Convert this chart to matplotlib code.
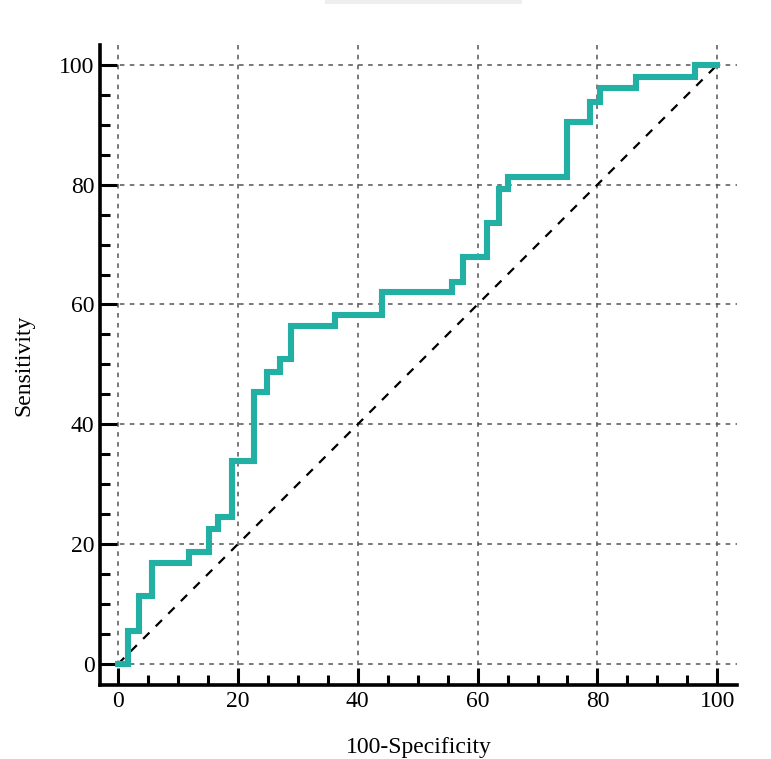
import matplotlib
matplotlib.use("Agg")
import matplotlib.pyplot as plt
from matplotlib.patches import Rectangle
from matplotlib.ticker import MultipleLocator

# ROC curve corners (100-Specificity, Sensitivity)
fpr = [0, 1.6, 3.5, 5.7, 11.9, 15.2, 16.7, 19.0, 22.7, 24.8, 27.0, 28.9,
       36.2, 44.1, 55.8, 57.6, 61.6, 63.6, 65.1, 75.0, 78.8, 80.5, 86.5,
       96.3, 100]
tpr = [0, 5.5, 11.4, 16.9, 18.7, 22.5, 24.5, 33.9, 45.4, 48.7, 50.9, 56.4,
       58.3, 62.1, 63.8, 67.9, 73.6, 79.3, 81.3, 90.5, 93.8, 96.2, 98.0,
       100, 100]
ticks = [0, 20, 40, 60, 80, 100]

plt.rcParams['font.family'] = ['Liberation Serif', 'DejaVu Serif']

fig = plt.figure(figsize=(7.71, 7.59), dpi=100)
ax = fig.add_axes([0.1297, 0.0975, 0.8263, 0.8432])

# faint box at the top edge (cut-off title frame)
fig.patches.append(Rectangle((325 / 771, 1 - 4 / 759), 197 / 771, 4 / 759,
                             transform=fig.transFigure, facecolor='#eeeeee',
                             edgecolor='none'))

ax.plot([0, 100], [0, 100], color='black', lw=1.6, ls=(0, (4, 4)), zorder=3)
ax.plot(fpr, tpr, drawstyle='steps-post', color='#22afa4', lw=4.4,
        solid_joinstyle='miter', zorder=4)

ax.set_xlim(-3, 103.3)
ax.set_ylim(-3.5, 103.3)
ax.set_xticks(ticks)
ax.set_yticks(ticks)
ax.xaxis.set_minor_locator(MultipleLocator(5))
ax.yaxis.set_minor_locator(MultipleLocator(5))

ax.grid(True, which='major', color='#555555', lw=1.1, ls=(0, (3, 3.5)))
ax.set_axisbelow(True)

for s in ['top', 'right']:
    ax.spines[s].set_visible(False)
for s in ['left', 'bottom']:
    ax.spines[s].set_linewidth(2.6)

ax.tick_params(which='major', direction='in', length=12.5, width=2.2,
               labelsize=17, pad=4)
ax.tick_params(which='minor', direction='in', length=7, width=2.2)

ax.set_xlabel('100-Specificity', fontsize=17, labelpad=18)
ax.set_ylabel('Sensitivity', fontsize=17, labelpad=18)

fig.savefig('out.png', dpi=100)
